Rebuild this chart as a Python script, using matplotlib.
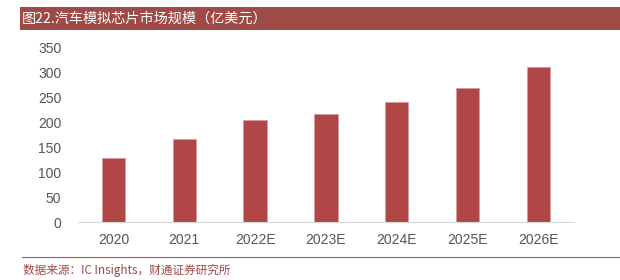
import matplotlib
matplotlib.use("Agg")
import matplotlib.pyplot as plt
from matplotlib.patches import Rectangle
from matplotlib.lines import Line2D

plt.rcParams['font.family'] = ['Noto Sans CJK SC', 'DejaVu Sans']

categories = ["2020", "2021", "2022E", "2023E", "2024E", "2025E", "2026E"]
values = [129, 166, 205, 217, 240, 268, 311]
yticks = [0, 50, 100, 150, 200, 250, 300, 350]
title = "图22.汽车模拟芯片市场规模（亿美元）"
source = "数据来源：IC Insights，财通证券研究所"

fig = plt.figure(figsize=(6.2, 2.8), dpi=100)
ax = fig.add_axes([0.1258, 0.206, 0.7997, 0.625])

ax.bar(range(len(categories)), values, width=0.33, color="#B04646",
       edgecolor="#D99A9A", linewidth=0.6)
ax.set_xlim(-0.5, len(categories) - 0.5)
ax.set_ylim(0, 350)
ax.set_yticks(yticks)
ax.set_xticks(range(len(categories)))
ax.set_xticklabels(categories)
for s in ["top", "right", "left"]:
    ax.spines[s].set_visible(False)
ax.spines["bottom"].set_color("#D9D9D9")
ax.tick_params(axis="both", length=0, colors="#555555", labelsize=10)
ax.tick_params(axis="x", pad=8)
ax.tick_params(axis="y", pad=12)
for lbl in ax.get_xticklabels() + ax.get_yticklabels():
    lbl.set_family(['Liberation Sans', 'DejaVu Sans'])

# Title bar
fig.patches.append(Rectangle((20/620, 1-30/280), 600/620, 23/280,
                             transform=fig.transFigure, facecolor="#9E4A47",
                             edgecolor="none"))
fig.text(22/620, 1-18.5/280, title, color="white", fontsize=10.2,
         va="center", ha="left")

# Bottom line and source
fig.lines.append(Line2D([22/620, 1.0], [1-257/280, 1-257/280],
                        transform=fig.transFigure, color="#B05A58", linewidth=0.8))
fig.text(23/620, 1-270/280, source, color="#9E4A47", fontsize=8.4,
         va="center", ha="left")

fig.savefig("out.png", dpi=100)
